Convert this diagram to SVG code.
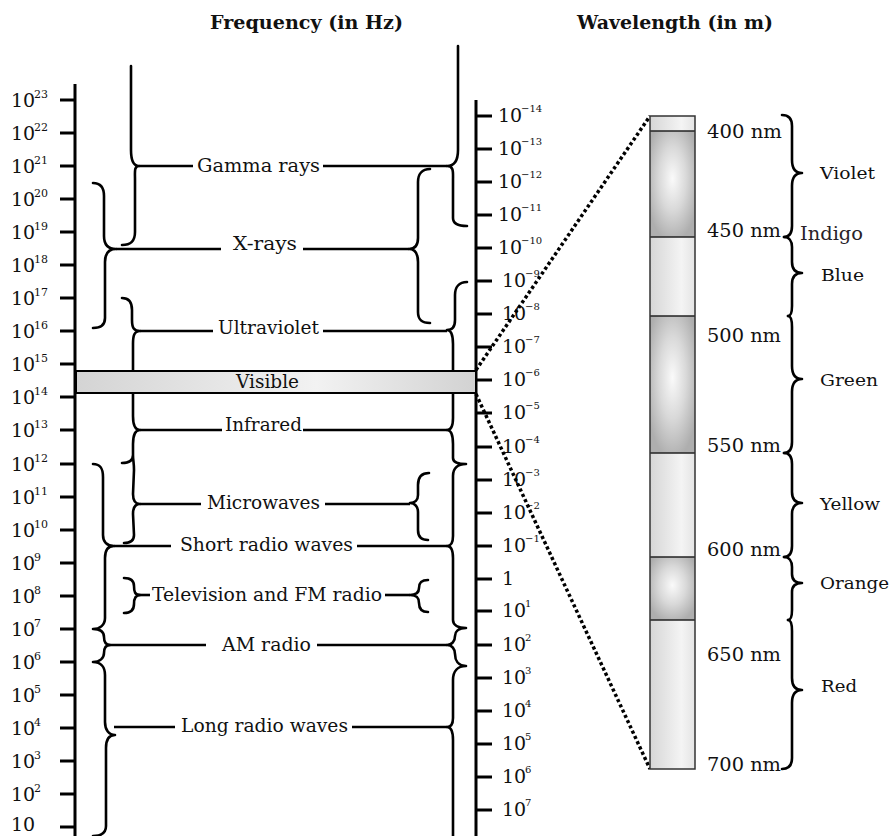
<svg xmlns="http://www.w3.org/2000/svg" width="891" height="836" viewBox="0 0 891 836">
<defs>
<style>
text{font-family:"DejaVu Serif","Liberation Serif",serif;fill:#111;}
.title{font-size:19px;font-weight:bold;}
.ax{font-size:19px;}
.sup{font-size:11px;}
.rsup{font-size:10px;}
.lbl{font-size:19px;}
.nm{font-size:18px;}
.col{font-size:17.5px;}
.axis{stroke:#000;stroke-width:3;fill:none;}
.tick{stroke:#000;stroke-width:3;}
.brace{stroke:#000;stroke-width:2.6;fill:none;stroke-linecap:round;stroke-linejoin:round;}
.lead{stroke:#000;stroke-width:2.6;}
.dot{stroke:#000;stroke-width:3.5;stroke-dasharray:3.2 2.6;fill:none;}
.seg{stroke:#222;stroke-width:1.6;}
</style>
<linearGradient id="visGrad" x1="0" y1="0" x2="1" y2="0">
<stop offset="0" stop-color="#d4d4d4"/>
<stop offset="0.6" stop-color="#f2f2f2"/>
<stop offset="1" stop-color="#d2d2d2"/>
</linearGradient>
<linearGradient id="light" x1="0" y1="0" x2="1" y2="0">
<stop offset="0" stop-color="#d6d6d6"/>
<stop offset="0.7" stop-color="#f4f4f4"/>
<stop offset="1" stop-color="#e4e4e4"/>
</linearGradient>
<radialGradient id="dark" cx="0.5" cy="0.45" r="0.6">
<stop offset="0" stop-color="#fafafa"/>
<stop offset="0.5" stop-color="#d9d9d9"/>
<stop offset="1" stop-color="#aeaeae"/>
</radialGradient>
</defs>
<rect width="891" height="836" fill="#fff"/>

<g id="titles">
<text class="title" x="210" y="29" textLength="193" lengthAdjust="spacingAndGlyphs">Frequency (in Hz)</text>
<text class="title" x="577" y="29" textLength="196" lengthAdjust="spacingAndGlyphs">Wavelength (in m)</text>
</g>

<g id="frequency-axis">
<line class="axis" x1="75" y1="84" x2="75" y2="836"/>
<g class="tick">
<line x1="60" y1="100" x2="75" y2="100"/><line x1="60" y1="133" x2="75" y2="133"/><line x1="60" y1="166" x2="75" y2="166"/><line x1="60" y1="199" x2="75" y2="199"/><line x1="60" y1="232" x2="75" y2="232"/><line x1="60" y1="265" x2="75" y2="265"/><line x1="60" y1="298" x2="75" y2="298"/><line x1="60" y1="331" x2="75" y2="331"/><line x1="60" y1="364" x2="75" y2="364"/><line x1="60" y1="397" x2="75" y2="397"/><line x1="60" y1="430" x2="75" y2="430"/><line x1="60" y1="464" x2="75" y2="464"/><line x1="60" y1="497" x2="75" y2="497"/><line x1="60" y1="530" x2="75" y2="530"/><line x1="60" y1="563" x2="75" y2="563"/><line x1="60" y1="596" x2="75" y2="596"/><line x1="60" y1="629" x2="75" y2="629"/><line x1="60" y1="662" x2="75" y2="662"/><line x1="60" y1="695" x2="75" y2="695"/><line x1="60" y1="728" x2="75" y2="728"/><line x1="60" y1="761" x2="75" y2="761"/><line x1="60" y1="794" x2="75" y2="794"/><line x1="60" y1="827" x2="75" y2="827"/>
</g>
<text class="ax" x="11" y="107">10<tspan class="sup" x="34" y="98">23</tspan></text>
<text class="ax" x="11" y="140">10<tspan class="sup" x="34" y="131">22</tspan></text>
<text class="ax" x="11" y="173">10<tspan class="sup" x="34" y="164">21</tspan></text>
<text class="ax" x="11" y="206">10<tspan class="sup" x="34" y="197">20</tspan></text>
<text class="ax" x="11" y="239">10<tspan class="sup" x="34" y="230">19</tspan></text>
<text class="ax" x="11" y="272">10<tspan class="sup" x="34" y="263">18</tspan></text>
<text class="ax" x="11" y="305">10<tspan class="sup" x="34" y="296">17</tspan></text>
<text class="ax" x="11" y="338">10<tspan class="sup" x="34" y="329">16</tspan></text>
<text class="ax" x="11" y="371">10<tspan class="sup" x="34" y="362">15</tspan></text>
<text class="ax" x="11" y="404">10<tspan class="sup" x="34" y="395">14</tspan></text>
<text class="ax" x="11" y="437">10<tspan class="sup" x="34" y="428">13</tspan></text>
<text class="ax" x="11" y="471">10<tspan class="sup" x="34" y="462">12</tspan></text>
<text class="ax" x="11" y="504">10<tspan class="sup" x="34" y="495">11</tspan></text>
<text class="ax" x="11" y="537">10<tspan class="sup" x="34" y="528">10</tspan></text>
<text class="ax" x="11" y="570">10<tspan class="sup" x="34" y="561">9</tspan></text>
<text class="ax" x="11" y="603">10<tspan class="sup" x="34" y="594">8</tspan></text>
<text class="ax" x="11" y="636">10<tspan class="sup" x="34" y="627">7</tspan></text>
<text class="ax" x="11" y="669">10<tspan class="sup" x="34" y="660">6</tspan></text>
<text class="ax" x="11" y="702">10<tspan class="sup" x="34" y="693">5</tspan></text>
<text class="ax" x="11" y="735">10<tspan class="sup" x="34" y="726">4</tspan></text>
<text class="ax" x="11" y="768">10<tspan class="sup" x="34" y="759">3</tspan></text>
<text class="ax" x="11" y="801">10<tspan class="sup" x="34" y="792">2</tspan></text>
<text class="ax" x="11" y="831">10</text>
</g>

<g id="wavelength-axis">
<line class="axis" x1="476" y1="100" x2="476" y2="836"/>
<g class="tick">
<line x1="476" y1="116" x2="492" y2="116"/><line x1="476" y1="149" x2="492" y2="149"/><line x1="476" y1="182" x2="492" y2="182"/><line x1="476" y1="215" x2="492" y2="215"/><line x1="476" y1="248" x2="492" y2="248"/><line x1="476" y1="281" x2="492" y2="281"/><line x1="476" y1="314" x2="492" y2="314"/><line x1="476" y1="347" x2="492" y2="347"/><line x1="476" y1="380" x2="492" y2="380"/><line x1="476" y1="413" x2="492" y2="413"/><line x1="476" y1="447" x2="492" y2="447"/><line x1="476" y1="480" x2="492" y2="480"/><line x1="476" y1="513" x2="492" y2="513"/><line x1="476" y1="546" x2="492" y2="546"/><line x1="476" y1="579" x2="492" y2="579"/><line x1="476" y1="611" x2="492" y2="611"/><line x1="476" y1="645" x2="492" y2="645"/><line x1="476" y1="678" x2="492" y2="678"/><line x1="476" y1="711" x2="492" y2="711"/><line x1="476" y1="744" x2="492" y2="744"/><line x1="476" y1="777" x2="492" y2="777"/><line x1="476" y1="810" x2="492" y2="810"/>
</g>
<text class="ax" x="498" y="122">10<tspan class="rsup" x="521" y="112">−14</tspan></text>
<text class="ax" x="498" y="155">10<tspan class="rsup" x="521" y="145">−13</tspan></text>
<text class="ax" x="498" y="188">10<tspan class="rsup" x="521" y="178">−12</tspan></text>
<text class="ax" x="498" y="221">10<tspan class="rsup" x="521" y="211">−11</tspan></text>
<text class="ax" x="498" y="254">10<tspan class="rsup" x="521" y="244">−10</tspan></text>
<text class="ax" x="502" y="287">10<tspan class="rsup" x="525" y="277">−9</tspan></text>
<text class="ax" x="502" y="320">10<tspan class="rsup" x="525" y="310">−8</tspan></text>
<text class="ax" x="502" y="353">10<tspan class="rsup" x="525" y="343">−7</tspan></text>
<text class="ax" x="502" y="386">10<tspan class="rsup" x="525" y="376">−6</tspan></text>
<text class="ax" x="502" y="419">10<tspan class="rsup" x="525" y="409">−5</tspan></text>
<text class="ax" x="502" y="453">10<tspan class="rsup" x="525" y="443">−4</tspan></text>
<text class="ax" x="502" y="486">10<tspan class="rsup" x="525" y="476">−3</tspan></text>
<text class="ax" x="502" y="519">10<tspan class="rsup" x="525" y="509">−2</tspan></text>
<text class="ax" x="502" y="552">10<tspan class="rsup" x="525" y="542">−1</tspan></text>
<text class="ax" x="502" y="585">1</text>
<text class="ax" x="502" y="617">10<tspan class="rsup" x="525" y="607">1</tspan></text>
<text class="ax" x="502" y="651">10<tspan class="rsup" x="525" y="641">2</tspan></text>
<text class="ax" x="502" y="684">10<tspan class="rsup" x="525" y="674">3</tspan></text>
<text class="ax" x="502" y="717">10<tspan class="rsup" x="525" y="707">4</tspan></text>
<text class="ax" x="502" y="750">10<tspan class="rsup" x="525" y="740">5</tspan></text>
<text class="ax" x="502" y="783">10<tspan class="rsup" x="525" y="773">6</tspan></text>
<text class="ax" x="502" y="816">10<tspan class="rsup" x="525" y="806">7</tspan></text>
</g>

<g id="connectors">
<path class="brace" d="M131 66 L131 150 C131 160 133 166 139 166 C134 166 135 172 135 180 L135 232 C135 241 131 245 122 245"/>
<path class="brace" d="M93 183 C101 183 104 188 104 196 L104 236 C104 245 108 249 116 249 C108 249 105 254 105 262 L105 318 C105 326 100 328 93 328"/>
<path class="brace" d="M122 298 C130 298 132 303 132 310 L132 320 C132 328 134 331 140 331 C134 331 133 336 133 344 L133 416 C133 425 135 430 140 430 C135 430 133 436 133 444 L133 455 C133 460 130 463 122 463 M133 455 C133 460 134 463 134 470 L133 494 C133 500 135 504 140 504 C135 504 133 508 133 514 L134 535 C134 540 131 543 124 543"/>
<path class="brace" d="M93 464 C101 464 103 469 103 477 L103 535 C103 542 107 546 114 546 C107 546 105 551 105 558 L105 618 C105 625 100 629 93 629 M93 629 C100 629 104 632 104 637 C104 642 106 645 110 645 C106 645 104 648 104 653 C104 658 100 662 93 662 M93 662 C101 662 105 667 105 675 L105 722 C105 730 109 735 115 735 C109 735 106 740 106 748 L106 826 C106 833 101 836 93 836"/>
<path class="brace" d="M124 578 C131 578 134 581 134 586 C134 592 135 595 140 595 C135 595 134 599 134 604 C134 610 131 613 124 613"/>
<path class="brace" d="M458 46 L458 150 C458 160 455 166 447 166 C454 166 453 172 453 180 L453 218 C453 224 458 226 467 226"/>
<path class="brace" d="M430 169 C422 169 418 174 418 182 L418 238 C418 245 415 249 409 249 C415 249 418 254 418 262 L418 312 C418 320 422 323 430 323"/>
<path class="brace" d="M467 282 C459 282 455 287 455 295 L455 320 C455 327 452 330 447 330 C452 330 453 336 453 344 L453 418 C453 426 451 430 447 430 C451 430 453 436 453 444 L453 458 C453 462 458 464 466 464 M466 464 C458 464 453 468 453 476 L453 536 C453 542 451 546 447 546 C451 546 453 551 453 558 L453 620 C453 625 458 628 466 628 M466 628 C458 628 455 632 455 636 C455 641 452 645 447 645 C452 645 455 649 455 654 C455 660 458 666 466 666 M466 666 C458 666 453 671 453 680 L453 718 C453 724 451 727 447 727 C451 727 453 732 453 740 L453 836"/>
<path class="brace" d="M429 473 C421 473 418 478 418 485 L418 495 C418 500 415 503 410 503 C415 503 418 507 418 512 L418 530 C418 536 421 540 428 540"/>
<path class="brace" d="M428 580 C421 580 419 583 419 588 C419 592 417 595 410 595 C417 595 419 598 419 603 C419 608 421 612 428 612"/>
<g class="lead">
<line x1="139" y1="166" x2="193" y2="166"/><line x1="323" y1="166" x2="447" y2="166"/>
<line x1="116" y1="249" x2="221" y2="249"/><line x1="303" y1="249" x2="409" y2="249"/>
<line x1="140" y1="331" x2="213" y2="331"/><line x1="323" y1="331" x2="447" y2="331"/>
<line x1="140" y1="430" x2="222" y2="430"/><line x1="303" y1="430" x2="447" y2="430"/>
<line x1="140" y1="504" x2="201" y2="504"/><line x1="325" y1="504" x2="410" y2="504"/>
<line x1="114" y1="546" x2="171" y2="546"/><line x1="357" y1="546" x2="447" y2="546"/>
<line x1="137" y1="595" x2="150" y2="595"/><line x1="385" y1="595" x2="410" y2="595"/>
<line x1="108" y1="645" x2="206" y2="645"/><line x1="317" y1="645" x2="447" y2="645"/>
<line x1="114" y1="727" x2="175" y2="727"/><line x1="352" y1="727" x2="447" y2="727"/>
</g>
<line class="dot" x1="476" y1="370" x2="650" y2="116"/>
<line class="dot" x1="476" y1="394" x2="650" y2="769"/>
<path class="brace" d="M782 115 C789 115 792 119 792 126 L792 160 C792 168 795 173 802 173 C795 173 792 178 792 186 L792 226 C792 233 789 237 784 237"/>
<path class="brace" d="M784 237 C789 237 792 241 792 247 L792 262 C792 269 795 273 802 273 C795 273 792 277 792 284 L792 306 C792 312 791 316 788 316"/>
<path class="brace" d="M788 316 C791 316 792 320 792 327 L792 366 C792 374 795 379 802 379 C795 379 792 384 792 392 L792 442 C792 449 789 453 784 453"/>
<path class="brace" d="M784 453 C789 453 792 457 792 464 L792 492 C792 499 795 503 802 503 C795 503 792 507 792 514 L792 546 C792 553 789 557 784 557"/>
<path class="brace" d="M784 557 C789 557 792 561 792 567 L792 574 C792 580 795 583 802 583 C795 583 792 586 792 592 L792 610 C792 616 791 620 788 620"/>
<path class="brace" d="M788 620 C791 620 792 624 792 631 L792 678 C792 686 795 690 802 690 C795 690 792 695 792 703 L792 758 C792 765 789 769 782 769"/>
</g>

<g id="node-visible">
<rect x="76" y="371" width="400" height="22" fill="url(#visGrad)" stroke="#000" stroke-width="2"/>
<text class="lbl" x="236" y="388" textLength="63" lengthAdjust="spacingAndGlyphs">Visible</text>
</g>
<g id="node-gamma"><text class="lbl" x="197" y="172" textLength="123" lengthAdjust="spacingAndGlyphs">Gamma rays</text></g>
<g id="node-xrays"><text class="lbl" x="233" y="250" textLength="64" lengthAdjust="spacingAndGlyphs">X-rays</text></g>
<g id="node-uv"><text class="lbl" x="218" y="334" textLength="101" lengthAdjust="spacingAndGlyphs">Ultraviolet</text></g>
<g id="node-ir"><text class="lbl" x="225" y="431" textLength="77" lengthAdjust="spacingAndGlyphs">Infrared</text></g>
<g id="node-mw"><text class="lbl" x="207" y="509" textLength="113" lengthAdjust="spacingAndGlyphs">Microwaves</text></g>
<g id="node-srw"><text class="lbl" x="180" y="551" textLength="173" lengthAdjust="spacingAndGlyphs">Short radio waves</text></g>
<g id="node-tv"><text class="lbl" x="152" y="601" textLength="230" lengthAdjust="spacingAndGlyphs">Television and FM radio</text></g>
<g id="node-am"><text class="lbl" x="222" y="651" textLength="89" lengthAdjust="spacingAndGlyphs">AM radio</text></g>
<g id="node-lrw"><text class="lbl" x="181" y="732" textLength="167" lengthAdjust="spacingAndGlyphs">Long radio waves</text></g>

<g id="spectrum-bar">
<rect x="650" y="116" width="45" height="15" fill="url(#light)"/>
<rect x="650" y="131" width="45" height="106" fill="url(#dark)"/>
<rect x="650" y="237" width="45" height="79" fill="url(#light)"/>
<rect x="650" y="316" width="45" height="137" fill="url(#dark)"/>
<rect x="650" y="453" width="45" height="104" fill="url(#light)"/>
<rect x="650" y="557" width="45" height="63" fill="url(#dark)"/>
<rect x="650" y="620" width="45" height="149" fill="url(#light)"/>
<g class="seg">
<line x1="650" y1="131" x2="695" y2="131"/><line x1="650" y1="237" x2="695" y2="237"/><line x1="650" y1="316" x2="695" y2="316"/><line x1="650" y1="453" x2="695" y2="453"/><line x1="650" y1="557" x2="695" y2="557"/><line x1="650" y1="620" x2="695" y2="620"/>
</g>
<rect x="650" y="116" width="45" height="653" fill="none" stroke="#333" stroke-width="1.5"/>
</g>

<g id="wavelength-labels">
<text class="nm" x="707" y="138" textLength="75" lengthAdjust="spacingAndGlyphs">400 nm</text>
<text class="nm" x="707" y="237" textLength="74" lengthAdjust="spacingAndGlyphs">450 nm</text>
<text class="nm" x="707" y="342" textLength="74" lengthAdjust="spacingAndGlyphs">500 nm</text>
<text class="nm" x="707" y="452" textLength="74" lengthAdjust="spacingAndGlyphs">550 nm</text>
<text class="nm" x="707" y="556" textLength="74" lengthAdjust="spacingAndGlyphs">600 nm</text>
<text class="nm" x="707" y="661" textLength="74" lengthAdjust="spacingAndGlyphs">650 nm</text>
<text class="nm" x="707" y="771" textLength="74" lengthAdjust="spacingAndGlyphs">700 nm</text>
</g>
<g id="node-violet"><text class="col" x="820" y="179" textLength="55" lengthAdjust="spacingAndGlyphs">Violet</text></g>
<g id="node-indigo"><text class="col" x="800" y="240" style="font-size:19px;fill:#2a2228" textLength="63" lengthAdjust="spacingAndGlyphs">Indigo</text></g>
<g id="node-blue"><text class="col" x="821" y="281" textLength="43" lengthAdjust="spacingAndGlyphs">Blue</text></g>
<g id="node-green"><text class="col" x="820" y="386" textLength="58" lengthAdjust="spacingAndGlyphs">Green</text></g>
<g id="node-yellow"><text class="col" x="820" y="510" textLength="60" lengthAdjust="spacingAndGlyphs">Yellow</text></g>
<g id="node-orange"><text class="col" x="820" y="589" textLength="69" lengthAdjust="spacingAndGlyphs">Orange</text></g>
<g id="node-red"><text class="col" x="821" y="692" textLength="36" lengthAdjust="spacingAndGlyphs">Red</text></g>
</svg>
